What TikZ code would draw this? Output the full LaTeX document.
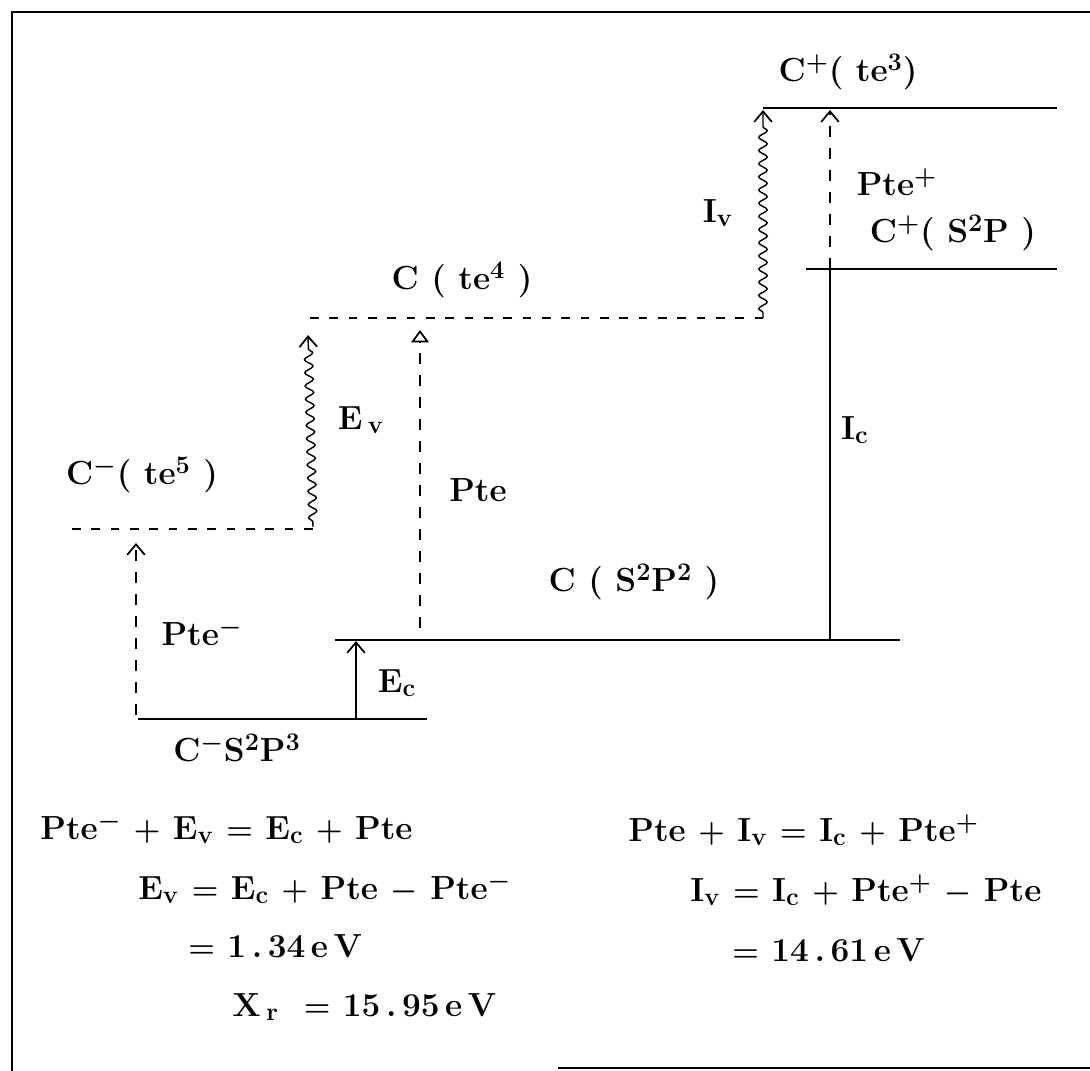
\documentclass[tikz,border=0pt]{standalone}
\usetikzlibrary{arrows.meta,decorations.pathmorphing}
\newcommand\lsub[1]{$_{\mathbf{#1}}$}
\begin{document}
\begin{tikzpicture}[x=0.02cm,y=-0.02cm,
  level/.style={line width=1.6pt},
  dlevel/.style={line width=1.2pt, dash pattern=on 5pt off 6pt},
  dvert/.style={line width=1.2pt, dash pattern=on 6.5pt off 6pt},
  wave/.style={line width=0.8pt, decorate, decoration={snake, amplitude=2.4pt, segment length=7.5pt, pre length=3pt, post length=7pt}},
  barb/.style={-{Straight Barb[length=6pt,width=10pt,line width=1pt]}},
  tri/.style={-{Triangle[open,length=7pt,width=10pt,line width=1pt]}},
  lab/.style={font=\fontsize{19}{22}\selectfont\bfseries\boldmath, inner sep=0pt},
  eq/.style={lab, anchor=west},
  frame/.style={line width=1.6pt}]
\useasboundingbox (0,0) rectangle (1090,1071);
% frame
\coordinate (fBL) at (12,1071);
\coordinate (fTL) at (12,12);
\coordinate (fTR) at (1090,12);
\coordinate (fB1) at (558,1068);
\coordinate (fB2) at (1090,1068);
\draw[frame] (fBL) -- (fTL) -- (fTR);
\draw[frame] (fB1) -- (fB2);
% levels
\coordinate (m5L) at (72,529);
\coordinate (m5R) at (313,529);
\coordinate (t4L) at (310,318);
\coordinate (t4R) at (763,318);
\coordinate (t3L) at (763,108);
\coordinate (t3R) at (1057,108);
\coordinate (spL) at (806,269);
\coordinate (spR) at (1057,269);
\coordinate (sppL) at (335,640);
\coordinate (sppR) at (900,640);
\coordinate (s3L) at (138,719);
\coordinate (s3R) at (427,719);
\draw[dlevel] (m5L) -- (m5R);
\draw[dlevel] (t4L) -- (t4R);
\draw[level] (t3L) -- (t3R);
\draw[level] (spL) -- (spR);
\draw[level] (sppL) -- (sppR);
\draw[level] (s3L) -- (s3R);
% transitions
\coordinate (evB) at (313,527);
\coordinate (evT) at (308,335);
\draw[wave,barb] (evB) -- (evT);
\coordinate (ivB) at (763,318);
\coordinate (ivT) at (763,110);
\draw[wave,barb] (ivB) -- (ivT);
\coordinate (pmB) at (136,715);
\coordinate (pmT) at (136,543);
\draw[dvert,barb] (pmB) -- (pmT);
\coordinate (ecB) at (356,719);
\coordinate (ecT) at (356,641);
\draw[line width=1pt,barb] (ecB) -- (ecT);
\coordinate (ptB) at (420,628);
\coordinate (ptT) at (420,330);
\draw[dvert,tri] (ptB) -- (ptT);
\coordinate (ppB) at (830,269);
\coordinate (ppT) at (830,110);
\draw[dvert,barb] (ppB) -- (ppT);
\coordinate (icB) at (830,640);
\draw[level] (icB) -- (ppB);
% labels
\node[lab] (lt3) at (848,72) {C$^{+}$( te$^{3}$)};
\node[lab] (liv) at (718,213) {I\lsub{v}};
\node[lab] (lptp) at (897,182) {Pte$^{+}$};
\node[lab] (lsp) at (953,233) {C$^{+}$( S$^{2}$P )};
\node[lab] (lt4) at (462,280) {C ( te$^{4}$ )};
\node[lab] (lev) at (361,420) {E\,\lsub{v}};
\node[lab] (lm5) at (142,475) {C$^{-}$( te$^{5}$ )};
\node[lab] (lpt) at (478,490) {Pte};
\node[lab] (lic) at (855,430) {I\lsub{c}};
\node[lab] (lspp) at (634,582) {C ( S$^{2}$P$^{2}$ )};
\node[lab] (lptm) at (202,632) {Pte$^{-}$};
\node[lab] (lec) at (397,683) {E\lsub{c}};
\node[lab] (ls3) at (237,748) {C$^{-}$S$^{2}$P$^{3}$};
% equations
\node[eq] (e1) at (40,828) {Pte$^{-}$ $+$ E\lsub{v} $=$ E\lsub{c} $+$ Pte};
\node[eq] (e2) at (138,888) {E\lsub{v} $=$ E\lsub{c} $+$ Pte $-$ Pte$^{-}$};
\node[eq] (e3) at (188,946) {$=$ 1\,.\,34\,e\,V};
\node[eq] (e4) at (232,1007) {X\,\lsub{r} \ $=$ 15\,.\,95\,e\,V};
\node[eq] (e5) at (628,830) {Pte $+$ I\lsub{v} $=$ I\lsub{c} $+$ Pte$^{+}$};
\node[eq] (e6) at (690,890) {I\lsub{v} $=$ I\lsub{c} $+$ Pte$^{+}$ $-$ Pte};
\node[eq] (e7) at (732,950) {$=$ 14\,.\,61\,e\,V};
\end{tikzpicture}
\end{document}
